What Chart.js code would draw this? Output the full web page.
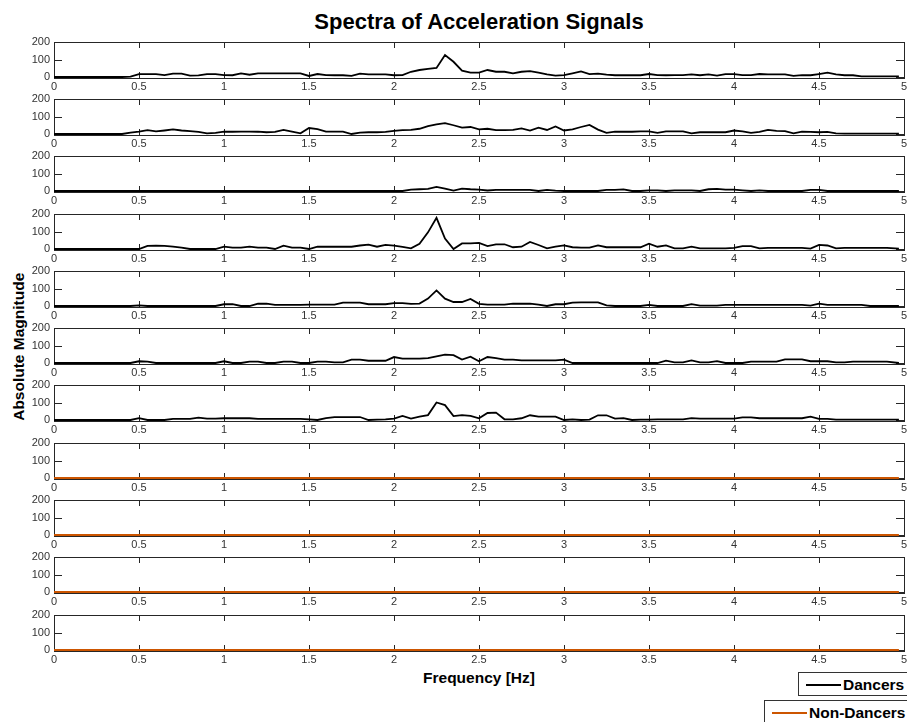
<!DOCTYPE html>
<html>
<head>
<meta charset="utf-8">
<script src="https://cdn.jsdelivr.net/npm/chart.js@4.4.1/dist/chart.umd.min.js"></script>
<style>
html,body{margin:0;padding:0;background:#fff;width:907px;height:722px;overflow:hidden;font-family:"Liberation Sans",Arial,sans-serif;color:#000;}
canvas.panel{position:absolute;left:0;width:907px;height:70px;}
#title{position:absolute;left:54px;width:850px;top:11px;text-align:center;font-weight:bold;font-size:22px;line-height:22px;white-space:nowrap;}
#xlabel{position:absolute;left:54px;width:850px;top:670px;text-align:center;font-weight:bold;font-size:15.5px;line-height:15.5px;white-space:nowrap;}
#ylabel{position:absolute;left:18.5px;top:346.5px;width:300px;height:15.5px;margin-left:-150px;margin-top:-7.75px;text-align:center;font-weight:bold;font-size:15.5px;line-height:15.5px;transform:rotate(-90deg);white-space:nowrap;}
.leg{position:absolute;background:#fff;border:1px solid #333;}
.leg .ln{position:absolute;height:2px;}
.leg .tx{position:absolute;font-weight:bold;font-size:15.5px;line-height:15.5px;white-space:nowrap;}
</style>
</head>
<body>
<div id="title">Spectra of Acceleration Signals</div>
<div id="ylabel">Absolute Magnitude</div>
<div id="xlabel">Frequency [Hz]</div>
<div id="panels"></div>
<div class="leg" style="left:798px;top:672px;width:130px;height:22px;">
  <span class="ln" style="left:7px;top:11px;width:35px;background:#000;"></span>
  <span class="tx" style="left:44px;top:4px;">Dancers</span>
</div>
<div class="leg" style="left:764px;top:700px;width:160px;height:30px;">
  <span class="ln" style="left:7px;top:11px;width:35px;background:#cc5500;"></span>
  <span class="tx" style="left:44px;top:4px;">Non-Dancers</span>
</div>
<script>
// ---- data ----
const freq = [0,0.05,0.1,0.15,0.2,0.25,0.3,0.35,0.4,0.45,
  0.5,0.55,0.6,0.65,0.7,0.75,0.8,0.85,0.9,0.95,
  1,1.05,1.1,1.15,1.2,1.25,1.3,1.35,1.4,1.45,
  1.5,1.55,1.6,1.65,1.7,1.75,1.8,1.85,1.9,1.95,
  2,2.05,2.1,2.15,2.2,2.25,2.3,2.35,2.4,2.45,
  2.5,2.55,2.6,2.65,2.7,2.75,2.8,2.85,2.9,2.95,
  3,3.05,3.1,3.15,3.2,3.25,3.3,3.35,3.4,3.45,
  3.5,3.55,3.6,3.65,3.7,3.75,3.8,3.85,3.9,3.95,
  4,4.05,4.1,4.15,4.2,4.25,4.3,4.35,4.4,4.45,
  4.5,4.55,4.6,4.65,4.7,4.75,4.8,4.85,4.9,4.97];

const dancers1 = [0,0,0,0,0,0,0,0,0,2,
  17,17,17,11,19,19,8,9,17,17,
  11,10,21,13,21,21,21,21,21,21,
  6,17,11,10,10,6,19,15,15,15,
  10,11,30,40,46,52,125,87,36,25,
  25,40,30,30,21,30,34,25,15,8,
  11,21,32,17,19,13,10,10,10,10,
  17,11,10,11,11,15,10,15,8,17,
  17,11,11,17,15,15,15,6,11,10,
  17,25,15,10,10,4,4,4,4,4];

const dancers2 = [0,0,0,0,0,0,0,0,0,8,
  13,22,15,20,26,20,16,12,4,6,
  13,13,14,13,13,10,12,24,14,4,
  34,28,14,14,14,0,8,10,10,12,
  18,22,24,30,45,55,62,50,36,40,
  27,30,22,22,24,32,20,36,23,43,
  20,27,40,52,25,7,13,13,13,15,
  15,7,15,15,15,4,10,10,10,10,
  20,15,7,12,24,18,16,4,14,12,
  10,12,4,2,2,2,2,2,2,2];

const dancers3 = [0,0,0,0,0,0,0,0,0,0,
  0,0,0,0,0,0,0,0,0,0,
  0,0,0,0,0,0,0,0,0,0,
  0,0,0,0,0,0,0,0,0,0,
  0,0,8,10,12,24,14,2,14,10,
  8,3,6,6,6,6,6,0,6,2,
  0,0,0,0,0,6,6,9,0,0,
  4,4,0,4,4,4,0,10,12,8,
  8,4,0,4,0,0,0,0,0,6,
  6,0,0,0,0,0,0,0,0,0];

const dancers4 = [0,0,0,0,0,0,0,0,0,0,
  0,18,19,18,14,8,0,0,0,0,
  13,8,8,13,8,8,0,19,8,8,
  0,13,13,13,13,13,20,25,13,23,
  19,12,4,30,95,178,60,0,32,32,
  35,17,27,27,10,13,40,23,4,13,
  21,10,8,8,21,10,10,10,10,10,
  30,13,21,4,4,13,4,4,4,4,
  6,17,17,4,6,6,6,6,6,2,
  23,20,4,6,6,6,6,6,6,2];

const dancers5 = [0,0,0,0,0,0,0,0,0,0,
  4,0,0,0,0,0,0,0,0,0,
  10,11,0,0,13,13,6,6,6,6,
  8,8,8,8,19,19,19,10,10,10,
  17,17,12,14,42,89,42,23,23,40,
  12,8,8,8,13,13,13,8,0,10,
  10,19,21,21,21,4,0,0,0,0,
  6,0,0,0,0,11,2,2,2,6,
  6,6,6,6,6,6,6,6,6,2,
  13,6,6,6,6,6,0,0,0,0];

const dancers6 = [0,0,0,0,0,0,0,0,0,0,
  10,8,0,0,0,0,0,0,0,0,
  10,0,0,8,8,0,0,8,8,0,
  0,8,8,4,4,19,19,13,13,13,
  34,25,25,25,28,38,48,45,20,36,
  10,34,28,19,19,15,15,15,15,15,
  19,0,0,0,0,0,0,0,0,0,
  0,0,13,4,4,15,4,4,11,0,
  0,0,8,8,8,8,21,21,21,10,
  10,10,4,4,8,8,8,8,8,0];

const dancers7 = [0,0,0,0,0,0,0,0,0,0,
  11,0,0,0,6,6,6,13,8,8,
  10,10,10,10,6,6,6,6,6,6,
  4,0,11,17,17,17,17,0,2,4,
  8,23,8,19,28,100,85,22,28,23,
  10,40,42,4,4,10,27,19,19,19,
  0,4,0,2,27,27,8,11,0,2,
  2,4,4,4,4,11,8,8,8,8,
  8,15,15,10,10,10,10,10,10,19,
  6,6,2,2,2,2,2,2,2,2];

const freqNonDancers = [0, 4.97];
const nonDancers1 = [0, 0];
const nonDancers2 = [0, 0];
const nonDancers3 = [0, 0];
const nonDancers4 = [0, 0];

const xTicks = [0,0.5,1,1.5,2,2.5,3,3.5,4,4.5,5];
const yTicks = [0,100,200];
const groupNames = ['Dancers','Non-Dancers'];
const groupColors = ['#000000','#cc5500'];

// ---- build ----
const panels = [
  [freq, dancers1, 0],[freq, dancers2, 0],[freq, dancers3, 0],[freq, dancers4, 0],
  [freq, dancers5, 0],[freq, dancers6, 0],[freq, dancers7, 0],
  [freqNonDancers, nonDancers1, 1],[freqNonDancers, nonDancers2, 1],
  [freqNonDancers, nonDancers3, 1],[freqNonDancers, nonDancers4, 1]
];

const FONT = '"Liberation Sans", Arial, Helvetica, sans-serif';
Chart.defaults.font.family = FONT;

const boxPlugin = {
  id: 'matlabBox',
  beforeDatasetsDraw(chart) {
    const {ctx, chartArea: a, scales: {x, y}} = chart;
    ctx.save();
    ctx.strokeStyle = '#262626';
    ctx.lineWidth = 1;
    ctx.strokeRect(a.left + 0.5, a.top + 0.5, a.right - a.left, a.bottom - a.top + 1);
    ctx.beginPath();
    x.ticks.forEach(t => {
      const px = Math.round(x.getPixelForValue(t.value)) + 0.5;
      ctx.moveTo(px, a.top); ctx.lineTo(px, a.top + 6);
      ctx.moveTo(px, a.bottom + 1); ctx.lineTo(px, a.bottom - 5);
    });
    y.ticks.forEach(t => {
      const py = Math.round(y.getPixelForValue(t.value)) + 0.5;
      ctx.moveTo(a.left, py); ctx.lineTo(a.left + 8, py);
      ctx.moveTo(a.right, py); ctx.lineTo(a.right - 8, py);
    });
    ctx.stroke();
    ctx.restore();
  }
};

const host = document.getElementById('panels');
panels.forEach((p, i) => {
  const [xs, ys, g] = p;
  const top = Math.round(41.7 + 57.3 * i);
  const cv = document.createElement('canvas');
  cv.className = 'panel';
  cv.width = 907; cv.height = 70;
  cv.style.top = (top - 10) + 'px';
  host.appendChild(cv);
  new Chart(cv, {
    type: 'line',
    data: {
      datasets: [{
        label: groupNames[g],
        data: xs.map((f, k) => ({x: f, y: ys[k]})),
        borderColor: groupColors[g],
        borderWidth: g === 0 ? 1.8 : 2,
        pointRadius: 0,
        tension: 0,
        fill: false,
        clip: 4
      }]
    },
    options: {
      responsive: false,
      animation: false,
      devicePixelRatio: 1,
      layout: {padding: {top: 10, left: 0, right: 3, bottom: 0}},
      plugins: {legend: {display: false}, tooltip: {enabled: false}, title: {display: false}},
      scales: {
        x: {
          type: 'linear', min: 0, max: 5,
          grid: {display: false, drawTicks: false},
          border: {display: false},
          afterBuildTicks: s => { s.ticks = xTicks.map(v => ({value: v})); },
          afterFit: s => { s.height = 25; s.paddingLeft = 0; s.paddingRight = 0; },
          ticks: {autoSkip: false, maxRotation: 0, minRotation: 0, padding: 3,
                  color: '#333', font: {family: FONT, size: 11},
                  callback: v => String(v)}
        },
        y: {
          type: 'linear', min: 0, max: 200,
          grid: {display: false, drawTicks: false},
          border: {display: false},
          afterBuildTicks: s => { s.ticks = yTicks.map(v => ({value: v})); },
          afterFit: s => { s.width = 54; s.paddingTop = 0; s.paddingBottom = 0; },
          ticks: {padding: 4, color: '#333', font: {family: FONT, size: 11},
                  callback: v => String(v)}
        }
      }
    },
    plugins: [boxPlugin]
  });
});
</script>
</body>
</html>
